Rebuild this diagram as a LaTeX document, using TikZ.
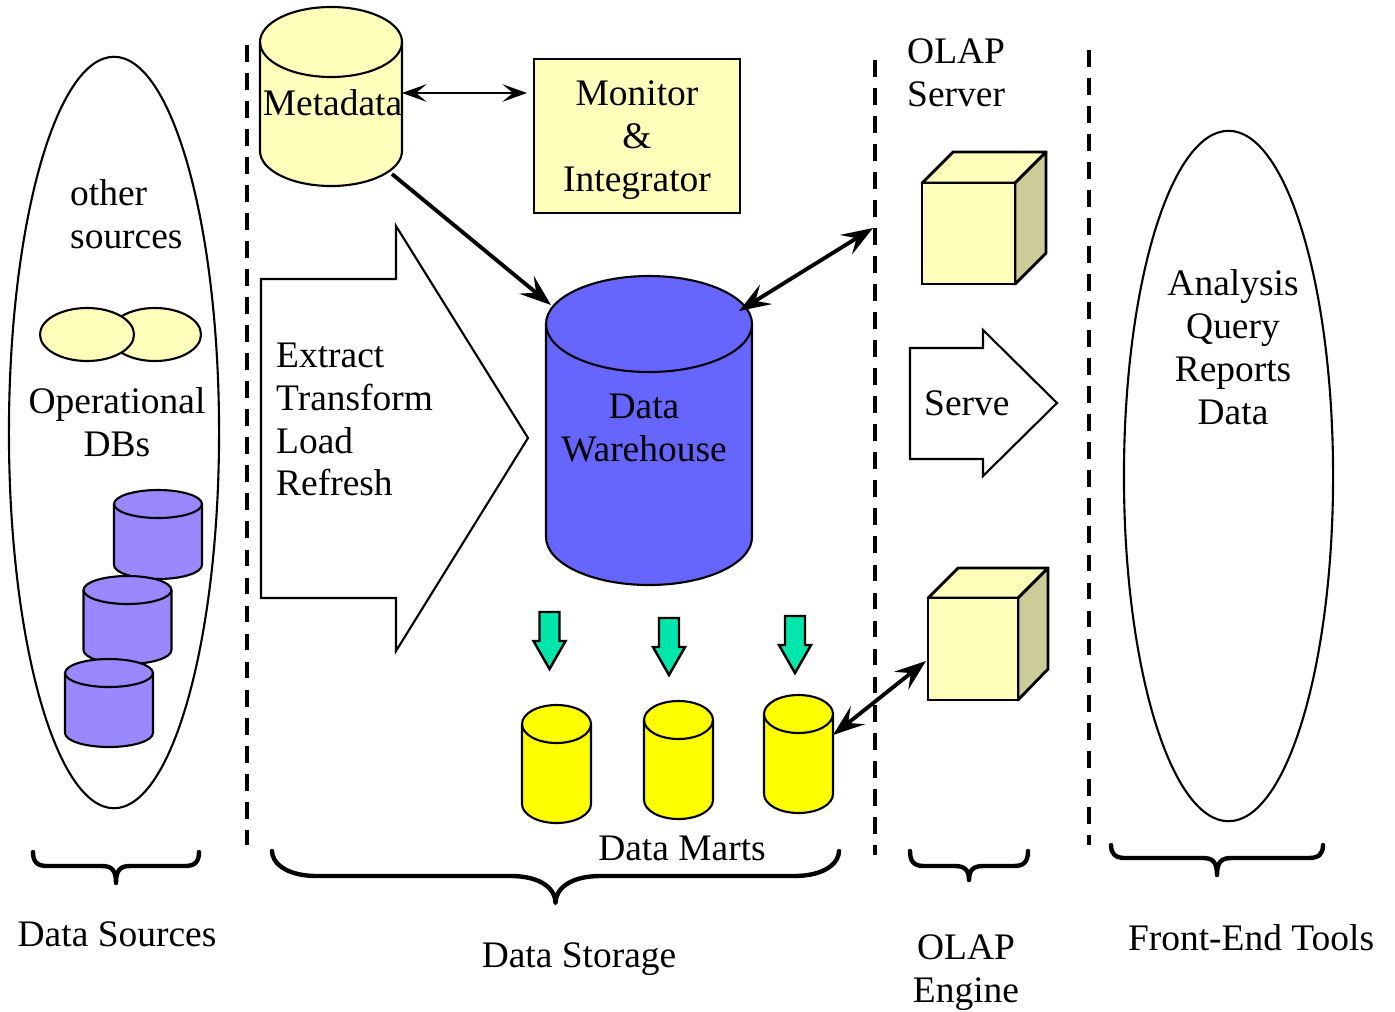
\documentclass[tikz,border=0pt]{standalone}
\usepackage{fontspec}
\setmainfont{Liberation Serif}
\usepackage{tikz}
\usetikzlibrary{positioning}
\usetikzlibrary{arrows.meta}
\usetikzlibrary{shapes.geometric}
\definecolor{paleyellow}{HTML}{FFFFBB}
\definecolor{cubeside}{HTML}{CCCC99}
\definecolor{sourcedb}{HTML}{9988FF}
\definecolor{warehouseblue}{HTML}{6666FF}
\definecolor{martyellow}{HTML}{FFFF00}
\definecolor{downgreen}{HTML}{00E5AA}
% name, centre x, top y, radius x, radius y, height, colour
\newcommand{\dbcyl}[7]{
	\filldraw[fill=#7,dbline] (#2-#4,#3-#5) -- (#2-#4,#3-#6+#5) arc (180:360:#4 and #5) -- (#2+#4,#3-#5) arc (0:180:#4 and #5) -- cycle;
	\draw[dbline] (#2-#4,#3-#5) arc (180:360:#4 and #5);
	\coordinate (#1) at (#2,#3-#6/2);
}
% left x, right x, end y, bar y, tip y, corner
\newcommand{\curlybrace}[6]{
	\draw[bracemark] (#1,#3) .. controls (#1,#4+0.3*#6) and (#1+0.3*#6,#4) .. (#1+#6,#4) -- ({(#1+#2)/2-#6},#4) .. controls ({(#1+#2)/2-0.3*#6},#4) and ({(#1+#2)/2},#4-0.3*#6) .. ({(#1+#2)/2},#5) .. controls ({(#1+#2)/2},#4-0.3*#6) and ({(#1+#2)/2+0.3*#6},#4) .. ({(#1+#2)/2+#6},#4) -- (#2-#6,#4) .. controls (#2-0.3*#6,#4) and (#2,#4+0.3*#6) .. (#2,#3);
}
\begin{document}
\begin{tikzpicture}[x=0.01cm,y=0.01cm,
							dbline/.style={line width=0.6pt},
							textnode/.style={inner sep=0pt, font=\fontsize{10.65}{12.2}\selectfont, align=center},
							leftnode/.style={textnode, align=left, anchor=west},
							oval/.style={ellipse, draw=black, line width=0.6pt, inner sep=0pt},
							boxnode/.style={rectangle, draw=black, fill=paleyellow, line width=0.8pt, inner sep=0pt},
							cubeline/.style={draw=black, line width=0.8pt, line join=round},
							cutline/.style={line width=1pt, dash pattern=on 4.8pt off 3.17pt},
							bigarrow/.style={draw=black, fill=white, line width=0.6pt},
							thinlink/.style={line width=0.6pt, {Stealth[length=7pt,width=5pt,inset=3pt]}-{Stealth[length=7pt,width=5pt,inset=3pt]}},
							thicklink/.style={line width=1.1pt, {Stealth[length=9pt,width=6.5pt,inset=3.5pt]}-{Stealth[length=9pt,width=6.5pt,inset=3.5pt]}},
							oneway/.style={line width=1.1pt, -{Stealth[length=9pt,width=6.5pt,inset=3.5pt]}},
							bracemark/.style={line width=1.25pt, line cap=round, line join=round},
							]
							\useasboundingbox (0,0) rectangle (1395,1011);
							%Cuts
							\coordinate (cutA1) at (247,966);
							\coordinate (cutA2) at (247,166);
							\coordinate (cutB1) at (875,951);
							\coordinate (cutB2) at (875,156);
							\coordinate (cutC1) at (1089,961);
							\coordinate (cutC2) at (1089,166);
							\draw[cutline] (cutA1) -- (cutA2);
							\draw[cutline] (cutB1) -- (cutB2);
							\draw[cutline] (cutC1) -- (cutC2);

							%Data sources
							\node[oval, minimum width=2.1cm, minimum height=7.51cm] (sources) at (114,578.5) {};
							\node[leftnode] (other) at (69.5,796.5) {other\\sources};
							\node[oval, fill=paleyellow, minimum width=0.92cm, minimum height=0.53cm] (dbB) at (155,676.5) {};
							\node[oval, fill=paleyellow, minimum width=0.94cm, minimum height=0.53cm] (dbA) at (87,676.5) {};
							\node[textnode] (operational) at (117,588.5) {Operational\\DBs};
							\dbcyl{srcA}{158}{521}{44}{14}{89}{sourcedb}
							\dbcyl{srcB}{127.5}{435}{44}{14}{88}{sourcedb}
							\dbcyl{srcC}{109}{352}{44}{14}{88}{sourcedb}

							%Data storage
							\dbcyl{metadata}{331}{1004}{71}{35}{179}{paleyellow}
							\node[textnode] (metalabel) at (332.5,908) {Metadata};
							\node[boxnode, minimum width=2.06cm, minimum height=1.54cm] (monitor) at (637,875) {};
							\node[textnode] (monitorlabel) at (637,871) {Monitor\\\&\\Integrator};
							\filldraw[bigarrow] (261,732) -- (396,732) -- (396,785) -- (528,573) -- (396,360) -- (396,413) -- (261,413) -- cycle;
							\node[leftnode] (etl) at (275.5,591.5) {Extract\\Transform\\Load\\Refresh};
							\dbcyl{warehouse}{649}{735}{103}{48}{309}{warehouseblue}
							\node[textnode] (whlabel) at (644,583) {Data\\Warehouse};
							\foreach \ax/\ay in {549.5/399, 669/393, 795/395}{
								\filldraw[fill=downgreen, line width=0.7pt, line join=miter] (\ax-10,\ay) -- (\ax+10,\ay) -- (\ax+10,\ay-29) -- (\ax+16,\ay-29) -- (\ax,\ay-57) -- (\ax-16,\ay-29) -- (\ax-10,\ay-29) -- cycle;
							}
							\dbcyl{martA}{556.5}{306}{34.5}{19}{118}{martyellow}
							\dbcyl{martB}{678.5}{310}{34.5}{19}{118}{martyellow}
							\dbcyl{martC}{798.5}{316}{34.5}{19}{118}{martyellow}
							\node[textnode] (marts) at (682,163) {Data Marts};

							%OLAP
							\node[leftnode] (server) at (906.5,938.5) {OLAP\\Server};
							\filldraw[cubeline, fill=paleyellow] (922,828) -- (953,859) -- (1046,859) -- (1015,828) -- cycle;
							\filldraw[cubeline, fill=cubeside] (1015,727) -- (1046,758) -- (1046,859) -- (1015,828) -- cycle;
							\node[boxnode, minimum width=0.93cm, minimum height=1.01cm] (cubeA) at (968.5,777.5) {};
							\filldraw[bigarrow] (910,663) -- (983,663) -- (983,681) -- (1057,608) -- (983,535) -- (983,552) -- (910,552) -- cycle;
							\node[leftnode] (serve) at (923.5,608) {Serve};
							\filldraw[cubeline, fill=paleyellow] (928,413) -- (958,443) -- (1048,443) -- (1018,413) -- cycle;
							\filldraw[cubeline, fill=cubeside] (1018,311) -- (1048,342) -- (1048,443) -- (1018,413) -- cycle;
							\node[boxnode, minimum width=0.90cm, minimum height=1.02cm] (cubeB) at (973,362) {};

							%Front end
							\node[oval, minimum width=2.09cm, minimum height=6.9cm] (tools) at (1228.5,535) {};
							\node[textnode] (analysis) at (1233,663.5) {Analysis\\Query\\Reports\\Data};

							%Links
							\coordinate (metaEast) at (402,918);
							\coordinate (monitorWest) at (527,918);
							\coordinate (metaFoot) at (392,837);
							\coordinate (whTop) at (551,706);
							\coordinate (whRight) at (739,700);
							\coordinate (serverCut) at (873,783);
							\coordinate (martRight) at (833,276);
							\coordinate (cubeWest) at (926,350);
							\draw[thinlink] (metaEast) -- (monitorWest);
							\draw[oneway] (metaFoot) -- (whTop);
							\draw[thicklink] (whRight) -- (serverCut);
							\draw[thicklink] (martRight) -- (cubeWest);

							%Braces
							\curlybrace{33}{199}{159}{145}{128}{14}
							\curlybrace{272}{839}{160}{135}{108}{45}
							\curlybrace{910}{1028}{160}{145}{131}{14}
							\curlybrace{1111}{1323}{166}{153}{136}{14}

							%Captions
							\node[textnode] (capsources) at (117,77) {Data Sources};
							\node[textnode] (capstorage) at (579,52) {Data Storage};
							\node[textnode] (capengine) at (966,38.5) {OLAP\\Engine};
							\node[textnode] (captools) at (1251,73) {Front-End Tools};
						\end{tikzpicture}
\end{document}
